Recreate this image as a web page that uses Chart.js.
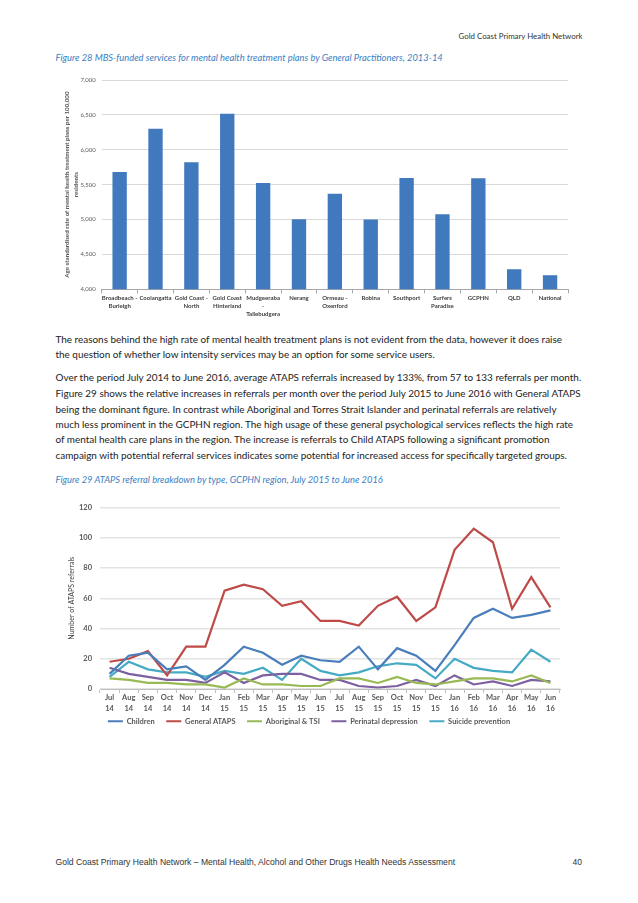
<!DOCTYPE html>
<html>
<head>
<meta charset="utf-8">
<script src="https://cdn.jsdelivr.net/npm/chart.js@4.4.0/dist/chart.umd.min.js"></script>
<style>
  html, body { margin:0; padding:0; background:#fff; }
  body { width:638px; height:903px; position:relative; overflow:hidden; font-family: Lato, "Noto Sans", sans-serif; }
  .abs { position:absolute; white-space:nowrap; line-height:16px; }
  .body { color:#222; font-size:10.5px; left:55.5px; }
  .cap { color:#3a80c3; font-style:italic; font-size:9.5px; left:55.5px; }
  .hdr { color:#333; font-size:9px; }
  .ftr { color:#333; font-family:"Liberation Sans", Arial, sans-serif; font-size:8.5px; }
  canvas { position:absolute; }
</style>
</head>
<body>
<div class="abs hdr" id="hdr" data-w="124" style="top:27.5px; right:55.5px;">Gold Coast Primary Health Network</div>
<div class="abs cap fit" data-w="388" style="top:50px;">Figure 28 MBS-funded services for mental health treatment plans by General Practitioners, 2013-14</div>

<canvas id="bar" width="530" height="260" style="left:55px; top:68px; width:530px; height:260px;"></canvas>

<div class="abs body" style="top:331px;">The reasons behind the high rate of mental health treatment plans is not evident from the data, however it does raise</div>
<div class="abs body" style="top:346.3px;">the question of whether low intensity services may be an option for some service users.</div>
<div class="abs body" id="ref" data-w="526.5" style="top:369.3px;">Over the period July 2014 to June 2016, average ATAPS referrals increased by 133%, from 57 to 133 referrals per month.</div>
<div class="abs body" style="top:385px;">Figure 29 shows the relative increases in referrals per month over the period July 2015 to June 2016 with General ATAPS</div>
<div class="abs body" style="top:400.7px;">being the dominant figure. In contrast while Aboriginal and Torres Strait Islander and perinatal referrals are relatively</div>
<div class="abs body" style="top:416px;">much less prominent in the GCPHN region. The high usage of these general psychological services reflects the high rate</div>
<div class="abs body" style="top:431.3px;">of mental health care plans in the region. The increase is referrals to Child ATAPS following a significant promotion</div>
<div class="abs body" style="top:447px;">campaign with potential referral services indicates some potential for increased access for specifically targeted groups.</div>

<div class="abs cap" style="top:472px;">Figure 29 ATAPS referral breakdown by type, GCPHN region, July 2015 to June 2016</div>

<canvas id="line" width="530" height="240" style="left:58px; top:495px; width:530px; height:240px;"></canvas>

<div class="abs ftr fit" data-w="400" style="top:854px; left:55.5px;">Gold Coast Primary Health Network – Mental Health, Alcohol and Other Drugs Health Needs Assessment</div>
<div class="abs ftr" style="top:854px; right:56px;">40</div>

<script>
// ---------- Figure 28 data ----------
const areas = [
  ["Broadbeach -", "Burleigh"], ["Coolangatta"], ["Gold Coast -", "North"], ["Gold Coast", "Hinterland"],
  ["Mudgeeraba", "-", "Tallebudgera"], ["Nerang"], ["Ormeau -", "Oxenford"], ["Robina"], ["Southport"],
  ["Surfers", "Paradise"], ["GCPHN"], ["QLD"], ["National"]
];
const planRates = [5680, 6300, 5820, 6517, 5524, 5003, 5371, 5000, 5596, 5075, 5591, 4287, 4201];
const barTicks = [4000, 4500, 5000, 5500, 6000, 6500, 7000];

// ---------- Figure 29 data ----------
const months = [
  ["Jul","14"],["Aug","14"],["Sep","14"],["Oct","14"],["Nov","14"],["Dec","14"],
  ["Jan","15"],["Feb","15"],["Mar","15"],["Apr","15"],["May","15"],["Jun","15"],
  ["Jul","15"],["Aug","15"],["Sep","15"],["Oct","15"],["Nov","15"],["Dec","15"],
  ["Jan","16"],["Feb","16"],["Mar","16"],["Apr","16"],["May","16"],["Jun","16"]
];
const children    = [10, 22, 24, 13, 15, 6, 16, 28, 24, 16, 22, 19, 18, 28, 13, 27, 22, 12, 29, 47, 53, 47, 49, 52];
const generalAtaps = [18, 20, 25, 9, 28, 28, 65, 69, 66, 55, 58, 45, 45, 42, 55, 61, 45, 54, 92, 106, 97, 53, 74, 54];
const aboriginal  = [7, 6, 4, 4, 3, 3, 1, 7, 3, 3, 2, 2, 7, 7, 4, 8, 4, 3, 5, 7, 7, 5, 9, 4];
const perinatal   = [14, 10, 8, 6, 6, 4, 11, 4, 9, 10, 10, 6, 6, 2, 1, 2, 6, 2, 9, 3, 5, 2, 6, 5];
const suicidePrev = [8, 18, 13, 11, 11, 8, 12, 10, 14, 6, 20, 12, 9, 11, 15, 17, 16, 7, 20, 14, 12, 11, 26, 18];
const seriesNames = ["Children", "General ATAPS", "Aboriginal & TSI", "Perinatal depression", "Suicide prevention"];
const seriesColors = ["#4A7EBB", "#BE4B48", "#98B954", "#7D60A0", "#46AAC5"];

// ---------- text fitting ----------
(function fitText(){
  const ref = document.getElementById('ref');
  const w = ref.getBoundingClientRect().width;
  const s = parseFloat(ref.dataset.w) / w;
  document.querySelectorAll('.body').forEach(el => { el.style.fontSize = (10.5 * s) + 'px'; });
  document.querySelectorAll('.fit, #hdr').forEach(el => {
    const fs = parseFloat(getComputedStyle(el).fontSize);
    const ww = el.getBoundingClientRect().width;
    const ns = fs * parseFloat(el.dataset.w) / ww;
    el.style.fontSize = ns + 'px';
    if (el.classList.contains('cap')) {
      document.querySelectorAll('.cap').forEach(c => c.style.fontSize = ns + 'px');
    }
  });
})();

const FONT = 'Lato, "Noto Sans", sans-serif';

new Chart(document.getElementById('bar'), {
  type: 'bar',
  data: {
    labels: areas,
    datasets: [{ data: planRates, backgroundColor: '#4179BE', borderWidth: 0, categoryPercentage: 1, barPercentage: 0.4 }]
  },
  options: {
    responsive: false, animation: false, devicePixelRatio: 1,
    layout: { padding: { top: 12, right: 17, left: 0, bottom: 0 } },
    plugins: { legend: { display: false }, tooltip: { enabled: false } },
    scales: {
      x: {
        afterFit: s => { s.height = 38.7; },
        grid: { offset: true, drawOnChartArea: false, drawTicks: true, tickLength: 4, color: '#a6a6a6' },
        border: { display: true, color: '#a6a6a6' },
        ticks: { autoSkip: false, maxRotation: 0, minRotation: 0, padding: 1, color: '#404040',
                 font: { family: FONT, size: 6, weight: 'bold', lineHeight: 1.3 } }
      },
      y: {
        min: 4000, max: 7000,
        afterFit: s => { s.width = 46.7; },
        afterBuildTicks: s => { s.ticks = barTicks.map(v => ({ value: v })); },
        grid: { color: '#d9d9d9', drawTicks: false },
        border: { display: false },
        ticks: { padding: 6, color: '#595959', font: { family: FONT, size: 6 },
                 callback: v => v.toLocaleString('en-US') },
        title: { display: true, text: ['Age standardised rate of mental health treatment plans per 100,000', 'residents'],
                 color: '#595959', padding: { top: 7.5, bottom: 0 }, font: { family: FONT, size: 6.2, weight: 'bold', lineHeight: 1.45 } }
      }
    }
  }
});

const lineData = [children, generalAtaps, aboriginal, perinatal, suicidePrev];
new Chart(document.getElementById('line'), {
  type: 'line',
  data: {
    labels: months,
    datasets: lineData.map((d, i) => ({
      label: seriesNames[i], data: d, borderColor: seriesColors[i], backgroundColor: seriesColors[i],
      borderWidth: 2.2, pointRadius: 0, tension: 0, fill: false
    }))
  },
  options: {
    responsive: false, animation: false, devicePixelRatio: 1,
    layout: { padding: { top: 8.3, right: 28, left: 0, bottom: 0 } },
    plugins: {
      tooltip: { enabled: false },
      legend: {
        position: 'bottom',
        labels: {
          usePointStyle: true, pointStyle: 'line', pointStyleWidth: 15, padding: 4, color: '#595959',
          font: { family: FONT, size: 7.5, weight: 'bold' },
          generateLabels: chart => Chart.defaults.plugins.legend.labels.generateLabels(chart)
            .map((it, i, arr) => { if (i < arr.length - 1) it.text = it.text + '\u2002\u2002'; return it; })
        }
      }
    },
    scales: {
      x: {
        offset: true,
        afterFit: s => { s.height = 24.5; },
        grid: { offset: true, drawOnChartArea: false, drawTicks: true, tickLength: 4, color: '#bfbfbf' },
        border: { display: true, color: '#bfbfbf' },
        ticks: { autoSkip: false, maxRotation: 0, minRotation: 0, padding: 0, color: '#595959',
                 font: { family: FONT, size: 7.5, weight: 'bold', lineHeight: 1.35 } }
      },
      y: {
        min: 0, max: 120,
        afterFit: s => { s.width = 42; },
        grid: { color: '#e3e3e3', lineWidth: 1.5, drawTicks: false },
        border: { display: false },
        ticks: { stepSize: 20, padding: 8, color: '#595959', font: { family: FONT, size: 7.5, weight: 'bold' } },
        title: { display: true, text: 'Number of ATAPS referrals', color: '#404040',
                 padding: { top: 9.5, bottom: 0 }, font: { family: FONT, size: 7, lineHeight: 1.2 } }
      }
    }
  }
});
</script>
</body>
</html>
